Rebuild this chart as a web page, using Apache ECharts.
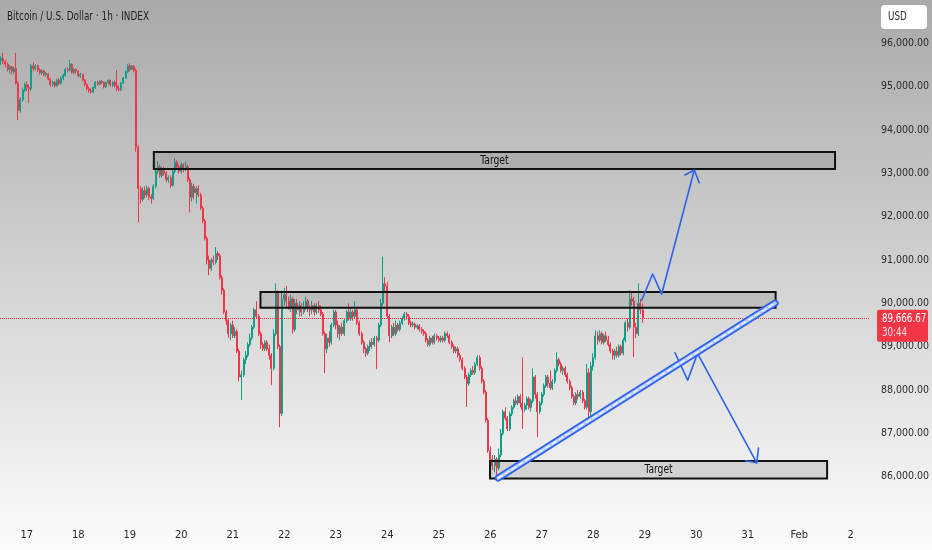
<!DOCTYPE html>
<html>
<head>
<meta charset="utf-8">
<script src="https://cdn.jsdelivr.net/npm/echarts@6/dist/echarts.min.js"></script>
<style>
html,body{margin:0;padding:0;background:#fff;}
#chart{width:932px;height:550px;}
</style>
</head>
<body>
<div id="chart"></div>
<script>
// ---------- DATA (hourly candles, each row = [open, close, low, high]) ----------
const firstHour = 12; // first candle: Jan 16, 12:00 (hours counted from Jan 16 00:00)
const jan16 = [
[95600,95650,95500,95700],[95650,95580,95520,95780],[95580,95520,95450,95620],[95520,95400,95350,95560],
[95400,95460,95300,95500],[95460,95350,95280,95480],[95350,95420,95300,95460],[95420,95080,95050,95780],
[95080,94450,94230,95120],[94450,94700,94400,94760],[94700,94920,94650,94980],[94920,95050,94880,95100]];
const jan17 = [
[95050,94980,94900,95120],[94980,94950,94620,95050],[94950,95480,94900,95520],[95480,95420,95350,95560],
[95420,95480,95380,95520],[95480,95390,95340,95510],[95390,95320,95280,95420],[95320,95360,95270,95400],
[95360,95280,95240,95390],[95280,95300,95230,95340],[95300,95180,95150,95320],[95180,95050,95000,95200],
[95050,95100,95000,95140],[95100,95020,94980,95130],[95020,95150,95000,95180],[95150,95080,95040,95200],
[95080,95200,95050,95240],[95200,95260,95150,95300],[95260,95400,95230,95430],[95400,95380,95330,95450],
[95380,95520,95350,95620],[95520,95330,95300,95540],[95330,95400,95290,95430],[95400,95360,95300,95420]];
const jan18 = [
[95360,95250,95220,95380],[95250,95280,95200,95320],[95280,95150,95120,95300],[95150,95050,95000,95180],
[95050,94950,94920,95080],[94950,94900,94860,95000],[94900,94880,94840,94960],[94880,94980,94850,95000],
[94980,95100,94950,95130],[95100,95060,95020,95140],[95060,95120,95030,95150],[95120,95100,95060,95160],
[95100,95000,94960,95120],[95000,95090,94970,95120],[95090,95140,95050,95170],[95140,95040,95000,95160],
[95040,95100,94990,95130],[95100,95020,94980,95140],[95020,94950,94900,95380],[94950,94930,94890,95020],
[94930,95080,94900,95110],[95080,95200,95060,95230],[95200,95350,95180,95380],[95350,95480,95320,95520]];
const jan19 = [
[95480,95400,95350,95540],[95400,95470,95380,95500],[95470,95380,95330,95500],[95380,93600,93500,95420],
[93600,92650,91870,93650],[92650,92400,92300,92700],[92400,92600,92350,92680],[92600,92500,92420,92700],
[92500,92650,92450,92720],[92650,92450,92380,92700],[92450,92420,92300,92520],[92420,92700,92380,92750],
[92700,93050,92650,93100],[93050,93150,92980,93280],[93150,92950,92900,93200],[92950,93100,92900,93150],
[93100,93000,92950,93160],[93000,92850,92800,93050],[92850,92900,92780,92950],[92900,92720,92660,92950],
[92720,93050,92700,93080],[93050,93250,93000,93350],[93250,93150,93080,93300],[93150,93050,93000,93200]];
const jan20 = [
[93050,93200,93000,93250],[93200,93100,93020,93230],[93100,93150,93050,93280],[93150,92850,92800,93200],
[92850,92450,92100,92900],[92450,92700,92350,92780],[92700,92550,92400,92760],[92550,92650,92300,92700],
[92650,92500,92450,92720],[92500,92200,92150,92550],[92200,91900,91850,92250],[91900,91500,91450,91950],
[91500,91000,90900,91550],[91000,90800,90650,91100],[90800,91000,90750,91050],[91000,90950,90880,91100],
[90950,91150,90900,91300],[91150,91100,91000,91200],[91100,90600,90550,91150],[90600,90300,90200,90650],
[90300,89800,89750,90350],[89800,89600,89500,89850],[89600,89300,89200,89650],[89300,89500,89150,89550]];
const jan21 = [
[89500,89250,89200,89600],[89250,89350,89200,89450],[89350,88900,88850,89400],[88900,88300,88200,88950],
[88300,88350,87770,88450],[88350,88700,88300,88750],[88700,88800,88600,88900],[88800,89050,88750,89100],
[89050,89200,89000,89300],[89200,89450,89150,89500],[89450,89850,89400,89900],[89850,89700,89650,90050],
[89700,89300,89250,89750],[89300,89050,88950,89350],[89050,88950,88900,89100],[88950,89100,88900,89150],
[89100,88950,88900,89150],[88950,88800,88700,89050],[88800,88500,88110,88850],[88500,89300,88450,89400],
[89300,90230,89250,90460],[90230,89000,88950,90300],[89000,87460,87140,89050],[87460,90100,87400,90300]];
const jan22 = [
[90100,90200,89950,90350],[90200,90050,89900,90400],[90050,89900,89850,90150],[89900,90100,89800,90200],
[90100,89400,89300,90150],[89400,90000,89350,90100],[90000,89850,89750,90100],[89850,89950,89700,90050],
[89950,89800,89700,90000],[89800,89900,89750,90050],[89900,90050,89850,90150],[90050,89900,89800,90100],
[89900,89850,89700,89950],[89850,89950,89750,90050],[89950,89800,89720,90000],[89800,89950,89750,90000],
[89950,89850,89780,90050],[89850,89750,89700,89950],[89750,89300,89250,89800],[89300,88950,88390,89350],
[88950,89200,88850,89300],[89200,89100,89000,89350],[89100,89500,89050,89550],[89500,89800,89450,89850]];
const jan23 = [
[89800,89500,89400,89850],[89500,89300,89200,89600],[89300,89450,89150,89500],[89450,89300,89250,89550],
[89300,89600,89250,89650],[89600,89800,89550,89850],[89800,89650,89600,90000],[89650,89800,89600,89900],
[89800,89700,89600,89850],[89700,89850,89650,90050],[89850,89550,89500,89900],[89550,89300,89250,89600],
[89300,89100,89050,89350],[89100,88950,88850,89150],[88950,88850,88760,89000],[88850,89000,88800,89050],
[89000,89100,88900,89150],[89100,89050,88950,89200],[89050,89200,89000,89250],[89200,89150,88480,89250],
[89150,89500,89100,89550],[89500,90000,89450,90100],[90000,90450,89950,91080],[90450,90400,90250,90600]];
const jan24 = [
[90400,89700,89650,90500],[89700,89250,89100,89750],[89250,89450,89200,89500],[89450,89300,89250,89550],
[89300,89500,89250,89600],[89500,89400,89350,89550],[89400,89550,89350,89600],[89550,89650,89500,89700],
[89650,89750,89600,89800],[89750,89700,89620,89800],[89700,89550,89500,89750],[89550,89500,89450,89600],
[89500,89520,89450,89580],[89520,89450,89400,89560],[89450,89480,89400,89520],[89480,89400,89350,89520],
[89400,89350,89300,89450],[89350,89300,89250,89400],[89300,89150,89100,89350],[89150,89050,89000,89200],
[89050,89200,89000,89250],[89200,89100,89050,89250],[89100,89250,89050,89300],[89250,89200,89150,89300]];
const jan25 = [
[89200,89150,89100,89250],[89150,89200,89100,89250],[89200,89150,89100,89250],[89150,89300,89100,89350],
[89300,89250,89200,89350],[89250,89100,89050,89300],[89100,89000,88950,89150],[89000,88900,88850,89050],
[88900,88950,88850,89000],[88950,88800,88750,89000],[88800,88700,88650,88850],[88700,88500,88450,88750],
[88500,88300,88250,88550],[88300,88150,87610,88350],[88150,88350,88100,88400],[88350,88450,88300,88500],
[88450,88400,88350,88550],[88400,88600,88350,88650],[88600,88750,88550,88800],[88750,88500,88450,88800],
[88500,88200,88150,88550],[88200,87950,87900,88250],[87950,87300,87250,88000],[87300,86600,86550,87350]];
const jan26 = [
[86600,86400,86300,86700],[86400,86250,86150,86500],[86250,86400,86100,86500],[86400,86200,85960,86450],
[86200,86500,86150,86650],[86500,87000,86450,87100],[87000,87500,86950,87550],[87500,87350,87300,87600],
[87350,87100,87050,87400],[87100,87450,87050,87500],[87450,87600,87400,87650],[87600,87750,87550,87800],
[87750,87700,87650,87850],[87700,87850,87650,87900],[87850,87700,87600,87900],[87700,87550,87100,88750],
[87550,87650,87500,87700],[87650,87800,87550,87850],[87800,87600,87550,87850],[87600,87750,87500,87800],
[87750,88300,87700,88500],[88300,87900,87800,88350],[87900,87500,86910,87950],[87500,87700,87450,87750]];
const jan27 = [
[87700,87900,87650,87950],[87900,88100,87850,88150],[88100,88300,88050,88350],[88300,88150,88050,88350],
[88150,88050,88000,88450],[88050,88200,88000,88250],[88200,88450,88150,88500],[88450,88700,88400,88870],
[88700,88600,88550,88750],[88600,88450,88400,88650],[88450,88500,88350,88550],[88500,88350,88300,88550],
[88350,88200,88150,88400],[88200,88050,88000,88250],[88050,87850,87800,88100],[87850,87700,87650,87900],
[87700,87900,87650,87950],[87900,87850,87780,88000],[87850,87950,87800,88000],[87950,87750,87700,88000],
[87750,87600,87550,87800],[87600,88400,87550,88600],[88400,87500,87350,88500],[87500,88550,87400,88650]];
const jan28 = [
[88550,88750,88450,88850],[88750,89250,88700,89380],[89250,89150,89050,89350],[89150,89300,89100,89380],
[89300,89100,89050,89350],[89100,89250,89050,89300],[89250,89150,89100,89350],[89150,89050,89000,89250],
[89050,88900,88850,89100],[88900,88800,88700,88950],[88800,88900,88700,88950],[88900,88800,88750,89000],
[88800,89000,88750,89050],[89000,88850,88800,89050],[88850,89150,88800,89200],[89150,89550,89100,89600],
[89550,89450,89350,89650],[89450,90100,89400,90300],[90100,90050,89950,90250],[90050,89450,88760,90150],
[89450,89300,89200,89550],[89300,90000,89250,90460],[90000,89850,89750,90100],[89850,89666.67,89550,90000]];

const lastPrice = 89666.67;
const lastTimer = '30:44';

// x-axis day ticks (hours from Jan 16 00:00) and their labels
const dayTicks = [24,48,72,96,120,144,168,192,216,240,264,288,312,336,360,384,408];
const dayLabels = ['17','18','19','20','21','22','23','24','25','26','27','28','29','30','31','Feb','2'];

// price zones: [fromHour, toHour, topPrice, bottomPrice]
const zoneUpperTarget = [83.2, 400.7, 93490, 93100];
const zoneResistance  = [132.9, 373.0, 90260, 89900];
const zoneLowerTarget = [239.9, 397.0, 86360, 85960];
const zoneLabels = ['Target', '', 'Target'];

// drawn trend line and projection paths: [hour, price]
const trendLine = [[243.7, 85968], [372.8, 90006]];
const upPath   = [[310.6, 90075], [315.7, 90676], [319.9, 90214], [335.1, 93076]];
const upHead   = [[330.7, 92961], [335.1, 93076], [337.4, 92783]];
const downPath = [[326.1, 88859], [332.0, 88227], [336.6, 88845], [364.2, 86320]];
const downHead = [[359.0, 86366], [364.2, 86320], [365.0, 86660]];

// ---------- CHART ----------
const FONT = "'Liberation Sans Narrow','DejaVu Sans Condensed','Roboto Condensed','Liberation Sans',sans-serif";
const UP = '#0f9e88', DOWN = '#f2364a', BLUE = '#2d62ee';

const allRows = [].concat(jan16, jan17, jan18, jan19, jan20, jan21, jan22, jan23, jan24, jan25, jan26, jan27, jan28);
const candles = allRows.map((r, i) => [firstHour + i, r[0], r[1], r[2], r[3]]);
const zones = [zoneUpperTarget, zoneResistance, zoneLowerTarget];

const chart = echarts.init(document.getElementById('chart'), null, {renderer: 'canvas'});

function lineSeries(data, width, color, type, z) {
  return {
    type: 'line', data: data, symbol: 'none', showSymbol: false, silent: true, z: z,
    animation: false, clip: false,
    lineStyle: {width: width, color: color, type: type || 'solid', cap: 'round', join: 'round'}
  };
}

const option = {
  animation: false,
  backgroundColor: new echarts.graphic.LinearGradient(0, 0, 0, 1, [
    {offset: 0, color: '#a9a9a9'},
    {offset: 0.5, color: '#d2d2d2'},
    {offset: 0.85, color: '#efefef'},
    {offset: 1, color: '#fbfbfb'}
  ]),
  grid: {left: 0, right: 60, top: 0, bottom: 30, containLabel: false},
  xAxis: {
    type: 'value', min: 11.5, max: 416.5,
    splitLine: {show: false}, axisLine: {show: false}, axisTick: {show: false},
    axisLabel: {
      customValues: dayTicks,
      formatter: v => dayLabels[dayTicks.indexOf(Math.round(v))] || '',
      color: '#2a2a2a', fontSize: 11, margin: 10, fontFamily: FONT
    }
  },
  yAxis: {
    type: 'value', position: 'right', min: 85000, max: 97000, interval: 1000,
    splitLine: {show: false}, axisLine: {show: false}, axisTick: {show: false},
    axisLabel: {
      margin: 12, color: '#2a2a2a', fontSize: 10.5, fontFamily: FONT,
      formatter: v => (v <= 85000 || v >= 97000) ? '' :
        v.toLocaleString('en-US', {minimumFractionDigits: 2, maximumFractionDigits: 2})
    }
  },
  series: [
    {
      type: 'candlestick', data: candles, encode: {x: 0, y: [1, 2, 3, 4]},
      barWidth: 1.5, z: 2, silent: true, large: false,
      itemStyle: {color: UP, color0: DOWN, borderColor: UP, borderColor0: DOWN, borderWidth: 1},
      markLine: {
        silent: true, symbol: ['none', 'none'], label: {show: false},
        lineStyle: {color: '#f23645', type: 'dotted', width: 1},
        data: [{yAxis: lastPrice}]
      }
    },
    {
      type: 'custom', data: zones, silent: true, z: 5, clip: false,
      renderItem: function (params, api) {
        const p1 = api.coord([api.value(0), api.value(2)]);
        const p2 = api.coord([api.value(1), api.value(3)]);
        return {
          type: 'rect',
          shape: {x: p1[0], y: p1[1], width: p2[0] - p1[0], height: p2[1] - p1[1]},
          style: {fill: 'rgba(95,95,95,0.2)', stroke: '#111111', lineWidth: 2},
          textContent: {
            type: 'text', scaleX: 0.85,
            style: {text: zoneLabels[params.dataIndex], fill: '#111', fontSize: 12, fontFamily: FONT}
          },
          textConfig: {position: 'inside'}
        };
      }
    },
    lineSeries(trendLine, 7, BLUE, 'solid', 6),
    lineSeries(trendLine, 3.5, '#b3c8fb', 'solid', 7),
    lineSeries(trendLine, 1.2, 'rgba(255,255,255,0.9)', [5, 3], 8),
    lineSeries(upPath, 1.6, BLUE, 'solid', 6),
    lineSeries(upHead, 1.6, BLUE, 'solid', 6),
    lineSeries(downPath, 1.6, BLUE, 'solid', 6),
    lineSeries(downHead, 1.6, BLUE, 'solid', 6)
  ]
};

chart.setOption(option);

const tagY = chart.convertToPixel({yAxisIndex: 0}, lastPrice);
const priceText = lastPrice.toLocaleString('en-US', {minimumFractionDigits: 2, maximumFractionDigits: 2});
chart.setOption({
  graphic: [
    {type: 'text', x: 7, y: 17, scaleX: 0.79, z: 21,
     style: {text: 'Bitcoin / U.S. Dollar · 1h · INDEX', fill: '#1e1e1e', fontSize: 12.5, fontFamily: FONT, verticalAlign: 'middle'}},
    {type: 'rect', shape: {x: 877, y: tagY - 8, width: 51, height: 32, r: 2}, style: {fill: '#f23645'}, z: 20},
    {type: 'text', x: 882, y: tagY + 1, scaleX: 0.84, z: 21,
     style: {text: priceText, fill: '#ffffff', fontSize: 11.5, fontFamily: FONT, verticalAlign: 'middle'}},
    {type: 'text', x: 882, y: tagY + 15, scaleX: 0.84, z: 21,
     style: {text: lastTimer, fill: '#ffe3e6', fontSize: 11.5, fontFamily: FONT, verticalAlign: 'middle'}},
    {type: 'rect', shape: {x: 881, y: 5, width: 46, height: 24, r: 4}, style: {fill: '#ffffff'}, z: 20},
    {type: 'text', x: 888, y: 17, scaleX: 0.85, z: 21,
     style: {text: 'USD', fill: '#2a2a2a', fontSize: 11.5, fontFamily: FONT, verticalAlign: 'middle'}}
  ]
});
</script>
</body>
</html>
